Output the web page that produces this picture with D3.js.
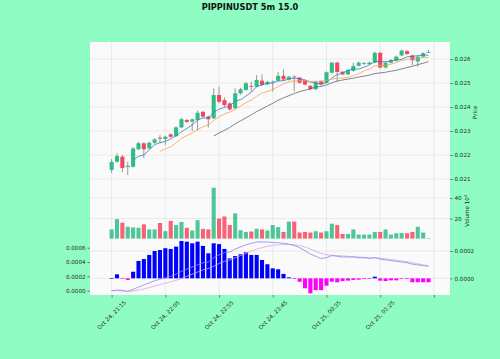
<!DOCTYPE html>
<html><head><meta charset="utf-8">
<script src="https://cdn.jsdelivr.net/npm/d3@7/dist/d3.min.js"></script>
<style>body{margin:0;background:#8ffcc4} svg{display:block}</style>
</head><body><svg id="c" width="500" height="359"></svg>
<script>
const titleText = "PIPPINUSDT 5m 15.0";
const opens  = [0.02138,0.02172,0.02193,0.02150,0.02151,0.02224,0.02249,0.02228,0.02251,0.02272,0.02267,0.02286,0.02279,0.02315,0.02346,0.02339,0.02346,0.02380,0.02360,0.02353,0.02450,0.02429,0.02415,0.02395,0.02457,0.02471,0.02487,0.02485,0.02510,0.02495,0.02504,0.02510,0.02530,0.02515,0.02527,0.02522,0.02512,0.02488,0.02474,0.02508,0.02501,0.02543,0.02585,0.02547,0.02536,0.02551,0.02572,0.02581,0.02579,0.02585,0.02626,0.02565,0.02585,0.02593,0.02615,0.02633,0.02615,0.02590,0.02610,0.02628];
const highs  = [0.02183,0.02208,0.02200,0.02172,0.02233,0.02255,0.02253,0.02256,0.02270,0.02283,0.02280,0.02290,0.02320,0.02355,0.02350,0.02352,0.02385,0.02384,0.02364,0.02478,0.02485,0.02440,0.02420,0.02478,0.02480,0.02505,0.02505,0.02533,0.02536,0.02510,0.02510,0.02547,0.02557,0.02530,0.02532,0.02526,0.02516,0.02492,0.02508,0.02512,0.02548,0.02588,0.02589,0.02550,0.02558,0.02585,0.02590,0.02588,0.02590,0.02630,0.02630,0.02590,0.02600,0.02614,0.02640,0.02637,0.02619,0.02614,0.02628,0.02638];
const lows   = [0.02125,0.02168,0.02129,0.02117,0.02148,0.02220,0.02187,0.02222,0.02246,0.02250,0.02242,0.02272,0.02275,0.02312,0.02333,0.02300,0.02301,0.02355,0.02315,0.02350,0.02415,0.02400,0.02385,0.02390,0.02452,0.02468,0.02464,0.02482,0.02488,0.02490,0.02464,0.02506,0.02510,0.02510,0.02464,0.02498,0.02490,0.02470,0.02470,0.02490,0.02498,0.02540,0.02505,0.02532,0.02533,0.02548,0.02569,0.02575,0.02576,0.02582,0.02560,0.02560,0.02582,0.02590,0.02612,0.02617,0.02575,0.02568,0.02606,0.02626];
const closes = [0.02171,0.02196,0.02146,0.02155,0.02227,0.02249,0.02224,0.02251,0.02265,0.02268,0.02276,0.02276,0.02315,0.02349,0.02338,0.02349,0.02376,0.02360,0.02349,0.02450,0.02422,0.02408,0.02390,0.02457,0.02474,0.02499,0.02484,0.02513,0.02492,0.02505,0.02506,0.02530,0.02515,0.02526,0.02524,0.02501,0.02494,0.02474,0.02505,0.02495,0.02545,0.02585,0.02546,0.02536,0.02554,0.02571,0.02585,0.02583,0.02585,0.02626,0.02565,0.02585,0.02596,0.02610,0.02635,0.02621,0.02595,0.02610,0.02624,0.02629];
const volumes = [9.4,19.4,16,12,11.4,11,14.4,9.4,9.4,15.7,7.7,17.7,13.7,16.7,11,8.4,18.4,10,9.4,50,20,22,13.7,25,8.7,7,7.4,10,9.4,8.4,13.7,11.7,7,17,17,6.4,7,6.4,7.7,6.4,7.7,15,13.7,5,5,9.4,4.4,4.4,4.4,7,7,9.4,4.4,5.7,6,5.7,7,12,6.4,1];
const macdLine = [0,0.1,0.05,-0.1,0.2,0.5,0.8,1.1,1.4,1.6,1.8,2.0,2.3,2.7,3.0,3.3,3.6,3.9,4.0,4.6,5.0,5.3,5.4,5.8,6.1,6.4,6.6,6.8,6.8,6.8,6.7,6.7,6.6,6.5,6.3,6.0,5.6,5.1,4.8,4.5,4.6,4.9,4.8,4.7,4.7,4.7,4.6,4.6,4.5,4.6,4.4,4.3,4.2,4.1,4.0,3.9,3.7,3.6,3.5,3.4];
const signalLine = [0,0,-0.05,-0.1,-0.05,0.1,0.25,0.45,0.65,0.85,1.05,1.25,1.45,1.7,2.0,2.3,2.6,2.9,3.1,3.4,3.8,4.1,4.3,4.6,4.9,5.2,5.5,5.8,6.0,6.2,6.3,6.4,6.45,6.45,6.4,6.3,6.1,5.8,5.5,5.2,5.0,4.95,4.9,4.85,4.8,4.75,4.7,4.65,4.6,4.6,4.55,4.45,4.35,4.25,4.15,4.05,3.9,3.75,3.6,3.5];
const histValues = [0,0.29,-0.02,-0.12,0.48,1.27,1.41,1.71,2.0,2.07,2.2,2.15,2.32,2.73,2.68,2.56,2.68,2.37,1.83,2.56,2.5,2.15,1.46,1.63,1.76,1.9,1.71,1.71,1.34,1.03,0.73,0.66,0.32,0.07,-0.05,-0.25,-0.73,-1.1,-0.86,-0.86,-0.54,-0.25,-0.29,-0.2,-0.17,-0.12,-0.1,-0.05,-0.05,0.12,-0.17,-0.2,-0.15,-0.15,-0.05,-0.05,-0.29,-0.29,-0.29,-0.29];
const maPeriods = [5, 10, 20];
const priceTicks = [0.021,0.022,0.023,0.024,0.025,0.026];
const volTicks = [20, 40];
const macdTicks = [0, 0.0002, 0.0004, 0.0006];
const histTicks = [0, 0.0002];
const xTickIdx = [0,10,20,30,40,50,60];
const xTickLabels = ["Oct 24, 21:15","Oct 24, 22:05","Oct 24, 22:55","Oct 24, 23:45","Oct 25, 00:35","Oct 25, 01:25",""];

const svg = d3.select("#c");
const W = 500, H = 359;
const L = 90, R = 450;
const pTop = 42, pBot = 182.6, vBot = 238.8, mBot = 295;
const UP = "#2ebd85", DN = "#f6465d";
const FS = 5.6, TXT = "#1f2a22";
const font = "DejaVu Sans, sans-serif";

const n = closes.length;
const x = d3.scaleLinear().domain([-4.03, 63.0]).range([L, R]);
const yP = d3.scaleLinear().domain([0.02085, 0.02671]).range([pBot, pTop]);
const yV = d3.scaleLinear().domain([0.3*d3.min(volumes), 1.1*d3.max(volumes)]).range([vBot, pBot]);
const yM = d3.scaleLinear().domain([-0.00006, 0.000724]).range([mBot, vBot]);
const yH = d3.scaleLinear().domain([-0.000122, 0.000289]).range([mBot, vBot]);
const bw = (x(1)-x(0))*0.76;

svg.append("rect").attr("width",W).attr("height",H).attr("fill","#8ffcc4");
svg.append("rect").attr("x",L).attr("y",pTop).attr("width",R-L).attr("height",mBot-pTop).attr("fill","#fafafa");

const defs = svg.append("defs");
[["cp",pTop,pBot],["cv",pBot,vBot],["cm",vBot,mBot]].forEach(([id,a,b])=>{
  defs.append("clipPath").attr("id",id).append("rect").attr("x",L).attr("y",a).attr("width",R-L).attr("height",b-a);
});

// grid
const grid = svg.append("g").attr("stroke","#e3e3e3").attr("stroke-width",0.7);
xTickIdx.forEach(t=>grid.append("line").attr("x1",x(t)).attr("x2",x(t)).attr("y1",pTop).attr("y2",mBot));
priceTicks.forEach(t=>grid.append("line").attr("x1",L).attr("x2",R).attr("y1",yP(t)).attr("y2",yP(t)));
volTicks.forEach(t=>grid.append("line").attr("x1",L).attr("x2",R).attr("y1",yV(t)).attr("y2",yV(t)));
histTicks.forEach(t=>grid.append("line").attr("x1",L).attr("x2",R).attr("y1",yH(t)).attr("y2",yH(t)));

// candles
const cg = svg.append("g").attr("clip-path","url(#cp)");
d3.range(n).forEach(i=>{
  const up = closes[i] >= opens[i];
  const col = up ? UP : DN;
  cg.append("line").attr("x1",x(i)).attr("x2",x(i)).attr("y1",yP(highs[i])).attr("y2",yP(lows[i]))
    .attr("stroke","#7d7d7d").attr("stroke-width",0.8);
  const yt = yP(Math.max(opens[i],closes[i])), yb = yP(Math.min(opens[i],closes[i]));
  cg.append("rect").attr("x",x(i)-bw/2).attr("y",yt).attr("width",bw).attr("height",Math.max(0.8,yb-yt)).attr("fill",col);
});
// moving averages
const maColors = ["#2f7fc1","#f5a35c","#666666"];
maPeriods.forEach((p,k)=>{
  const pts = [];
  for(let i=p-1;i<n;i++){ pts.push([i, d3.mean(closes.slice(i-p+1,i+1))]); }
  cg.append("path").attr("d", d3.line().x(d=>x(d[0])).y(d=>yP(d[1]))(pts))
    .attr("fill","none").attr("stroke",maColors[k]).attr("stroke-width",0.8);
});

// volume
const vg = svg.append("g").attr("clip-path","url(#cv)");
d3.range(n).forEach(i=>{
  const col = closes[i] >= opens[i] ? UP : DN;
  vg.append("rect").attr("x",x(i)-bw/2).attr("y",yV(volumes[i])).attr("width",bw)
    .attr("height",vBot-yV(volumes[i])).attr("fill",col).attr("opacity",0.85);
});

// macd
const mg = svg.append("g").attr("clip-path","url(#cm)");
d3.range(n).forEach(i=>{
  const v = histValues[i]*1e-4;
  const y0 = yH(0), y1 = yH(v);
  mg.append("rect").attr("x",x(i)-bw/2).attr("y",Math.min(y0,y1)).attr("width",bw)
    .attr("height",Math.max(0.6,Math.abs(y1-y0))).attr("fill", v>=0 ? "#0000ff" : "#ff00ff");
});
mg.append("path").attr("d", d3.line().x((d,i)=>x(i)).y(d=>yM(d*1e-4))(signalLine))
  .attr("fill","none").attr("stroke","#d9a6e6").attr("stroke-width",0.8);
mg.append("path").attr("d", d3.line().x((d,i)=>x(i)).y(d=>yM(d*1e-4))(macdLine))
  .attr("fill","none").attr("stroke","#8d86ef").attr("stroke-width",0.8);

// axes
function styleAxis(g){
  g.select(".domain").remove();
  g.selectAll(".tick line").attr("stroke","#333").attr("stroke-width",0.6);
  g.selectAll(".tick text").attr("fill",TXT).attr("font-size",FS).attr("font-family",font);
}
svg.append("g").attr("transform",`translate(${R},0)`)
  .call(d3.axisRight(yP).tickValues(priceTicks).tickFormat(d3.format(".3f")).tickSize(2.5).tickPadding(2)).call(styleAxis);
svg.append("g").attr("transform",`translate(${R},0)`)
  .call(d3.axisRight(yV).tickValues(volTicks).tickFormat(d3.format("d")).tickSize(2.5).tickPadding(2)).call(styleAxis);
svg.append("g").attr("transform",`translate(${R},0)`)
  .call(d3.axisRight(yH).tickValues(histTicks).tickFormat(d3.format(".4f")).tickSize(2.5).tickPadding(2)).call(styleAxis);
svg.append("g").attr("transform",`translate(${L},0)`)
  .call(d3.axisLeft(yM).tickValues(macdTicks).tickFormat(d3.format(".4f")).tickSize(2.5).tickPadding(2)).call(styleAxis);

const xa = svg.append("g").attr("transform",`translate(0,${mBot})`)
  .call(d3.axisBottom(x).tickValues(xTickIdx).tickFormat("").tickSize(2.5));
xa.select(".domain").remove();
xa.selectAll(".tick line").attr("stroke","#333").attr("stroke-width",0.6);
xTickIdx.forEach((t,k)=>{
  if(!xTickLabels[k]) return;
  const tx = svg.append("text").text(xTickLabels[k]).attr("font-size",FS).attr("font-family",font)
    .attr("fill",TXT).attr("text-anchor","middle").attr("dy","0.35em");
  const len = tx.node().getComputedTextLength();
  const half = (len + FS)*0.7071/2;
  tx.attr("transform",`translate(${x(t)},${mBot + 4.5 + half}) rotate(-45)`);
});

// labels
svg.append("text").attr("transform",`translate(477,${(pTop+pBot)/2}) rotate(-90)`).attr("text-anchor","middle")
  .attr("font-size",FS).attr("font-family",font).attr("fill",TXT).text("Price");
const vl = svg.append("text").attr("transform",`translate(469,${(pBot+vBot)/2}) rotate(-90)`).attr("text-anchor","middle")
  .attr("font-size",FS).attr("font-family",font).attr("fill",TXT);
vl.append("tspan").text("Volume  10");
vl.append("tspan").text("4").attr("font-size",FS*0.7).attr("dy",-2.2);

svg.append("text").attr("x",250).attr("y",9.6).attr("text-anchor","middle").attr("font-weight","bold")
  .attr("font-size",8.25).attr("font-family",font).attr("fill","#111").text(titleText);
</script></body></html>
